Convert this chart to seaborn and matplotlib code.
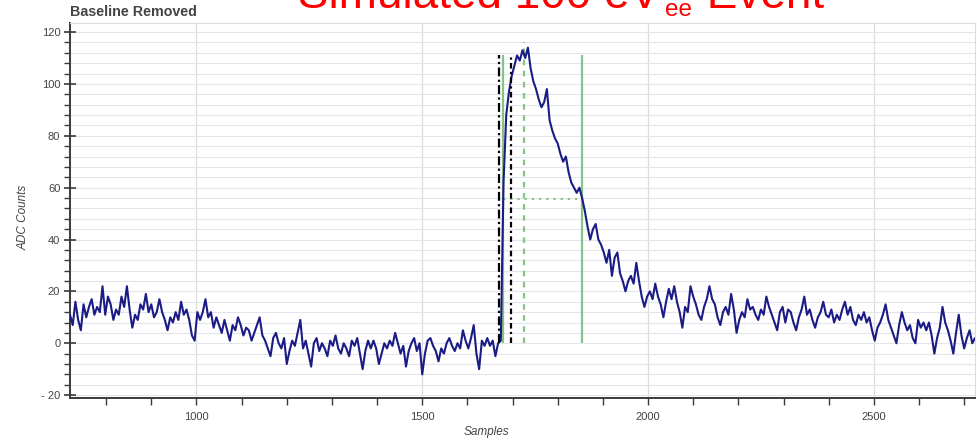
import matplotlib
matplotlib.use("Agg")
import matplotlib.pyplot as plt
import pandas as pd
import seaborn as sns
from matplotlib.ticker import MultipleLocator

# Digitizer sample grid (every 6th sample of the trace)
samples = list(range(720, 2725, 6))

# Baseline-subtracted ADC counts at those samples
adc_pre_1 = [
    11, 7, 16, 9, 5, 15, 10, 14, 17, 11,
    14, 12, 22, 11, 18, 15, 9, 13, 11, 18,
    14, 22, 13, 6, 11, 9, 15, 13, 19, 12,
    15, 10, 12, 17, 12, 9, 5, 10, 8, 12,
    9, 16, 11, 13, 9, 3, 1, 12, 9, 12,
    17, 10, 12, 6, 10, 7, 4, 9, 5, 1,
    7, 5, 10, 7, 3, 6, 5,
]
adc_pre_2 = [
    1, 4, 7, 10, 3, 1, -2, -5, 2, 4,
    0, -2, 2, -8, -3, 1, -1, 4, 9, -2,
    1, -4, -9, 0, 2, -3, 0, -2, -5, 1,
    -1, 3, -2, -4, 0, -2, -5, 1, -1, 2,
    -4, -10, -3, 1, -2, 1, -2, -8, -4, 0,
    -2, 1, -1, 4, 0, -4, -1, -9, -3, 0,
    2, -3, 0, -12, -4, 1, 2,
]
adc_pre_3 = [
    -1, -3, -7, -2, -4, 0, 2, -1, -3, 0,
    -2, 5, 1, -2, 2, 7, -4, -10, 1, -1,
    2, -1, 1, -5, 0, 1,
]
adc_pulse = [
    62, 88, 97, 103, 107, 111, 109, 113, 110, 114,
    106, 101, 98, 94, 91, 93, 98, 86, 82, 79,
    77, 73, 70, 72, 66, 62, 60, 58, 60, 56,
    51, 45, 40, 44, 46, 40,
]
adc_tail_1 = [
    38, 35, 31, 36, 26, 33, 35, 27, 24, 20,
    24, 26, 23, 31, 24, 18, 14, 18, 20, 17,
    23, 18, 15, 10, 16, 21, 17, 22, 16, 12,
    6, 14, 12, 22, 18, 15, 11, 9, 14, 17,
    22, 17, 15, 10, 7, 12, 14, 11, 19, 13,
    4, 9, 12, 10, 17, 13, 14, 11, 9, 13,
    11, 18, 14, 11, 8, 5, 12, 14,
]
adc_tail_2 = [
    8, 13, 12, 8, 5, 10, 13, 18, 11, 13,
    9, 6, 10, 12, 16, 11, 10, 13, 8, 11,
    9, 13, 16, 11, 14, 9, 7, 11, 9, 12,
    8, 10, 5, 1, 6, 8, 11, 15, 9, 6,
    3, 0, 7, 12, 8, 5, 7, 2, 0, 9,
    6, 8, 5, 8, 3, -4, 2, 6, 14, 8,
    5, 1, -4, 4, 11, 3, -2, 2, 5, 0,
    2,
]
adc_counts = adc_pre_1 + adc_pre_2 + adc_pre_3 + adc_pulse + adc_tail_1 + adc_tail_2

# Pulse-finding markers (sample index / ADC level)
start_a = 1670
start_b = 1679
rise_end = 1696
peak_pos = 1725
half_fall = 1854
marker_top = 111
peak_top = 116
half_level = 55.5

sns.set_theme(style="white")
plt.rcParams["font.family"] = ["Liberation Sans", "DejaVu Sans"]

W, H = 977, 441
fig = plt.figure(figsize=(W / 100, H / 100), dpi=100)
fig.patch.set_facecolor("white")
ax = fig.add_axes([70 / W, 1 - 397.7 / H, (975 - 70) / W, (397.7 - 23) / H])
ax.set_facecolor("white")

wave = pd.DataFrame({"Samples": samples, "ADC Counts": adc_counts})
sns.lineplot(data=wave, x="Samples", y="ADC Counts", ax=ax, color="#1b1b86",
             linewidth=1.5, estimator=None, sort=False, zorder=3)

green = "#86c386"
ax.vlines(start_a, 0, marker_top, colors="black", linestyles=(0, (4, 1.5, 1, 1.5)), linewidth=1.6, zorder=4)
ax.vlines(start_b, 0, marker_top, colors=green, linestyles="solid", linewidth=1.6, zorder=2)
ax.vlines(rise_end, 0, marker_top, colors="black", linestyles=(0, (2.5, 1.5, 1, 1.5)), linewidth=1.6, zorder=4)
ax.vlines(peak_pos, 0, peak_top, colors=green, linestyles=(0, (2.5, 2.5)), linewidth=1.6, zorder=2)
ax.vlines(half_fall, 0, marker_top, colors=green, linestyles="solid", linewidth=1.6, zorder=2)
ax.hlines(half_level, start_b, half_fall, colors=green, linestyles=(0, (1.2, 2.5)), linewidth=1.4, zorder=2)

ax.set_xlim(720, 2724)
ax.set_ylim(-21, 123.5)
ax.xaxis.set_major_locator(MultipleLocator(500))
ax.xaxis.set_minor_locator(MultipleLocator(100))
ax.yaxis.set_major_locator(MultipleLocator(20))
ax.yaxis.set_minor_locator(MultipleLocator(4))

ax.grid(True, axis="y", which="both", color="#e4e4ec", linewidth=0.8, zorder=0)
ax.grid(True, axis="x", which="major", color="#dcdcdc", linewidth=0.9, zorder=0)
ax.set_axisbelow(True)

for side in ("left", "bottom"):
    ax.spines[side].set_color("#3a3a3a")
    ax.spines[side].set_linewidth(1.4)
for side in ("top", "right"):
    ax.spines[side].set_color("#dddddd")
    ax.spines[side].set_linewidth(0.8)

ax.tick_params(axis="y", which="major", direction="inout", length=8, width=1.2, color="#3a3a3a",
               labelsize=8, labelcolor="#444444", pad=3, left=True)
ax.tick_params(axis="y", which="minor", direction="out", length=4, width=1.0, color="#3a3a3a", left=True)
ax.tick_params(axis="x", which="both", direction="out", length=5, width=1.0, color="#3a3a3a",
               labelsize=8, labelcolor="#444444", pad=5, bottom=True)
ax.set_yticks([-20, 0, 20, 40, 60, 80, 100, 120])
ax.set_yticklabels(["- 20", "0", "20", "40", "60", "80", "100", "120"])
ax.set_xticks([1000, 1500, 2000, 2500])

ax.set_xlabel("Samples", fontsize=8.5, fontstyle="italic", color="#444444")
ax.set_ylabel("ADC Counts", fontsize=8.5, fontstyle="italic", color="#444444")
ax.xaxis.set_label_coords((486 - 70) / 905, -0.075)
ax.yaxis.set_label_coords((30 - 70) / 905, 0.48)

fig.text(70 / W, 1 - 15.5 / H, "Baseline Removed", fontsize=10.3, fontweight="bold",
         color="#444444", va="baseline", ha="left")

# Title with a small "ee" subscript, laid out piece by piece
red = "#ff0000"
renderer = fig.canvas.get_renderer()
t_main = fig.text(298 / W, 1 - 8.5 / H, "Simulated 100 eV", fontsize=33, color=red,
                  va="baseline", ha="left")
bb = t_main.get_window_extent(renderer)
t_sub = fig.text((bb.x1 + 5) / W, 1 - 15.5 / H, "ee", fontsize=17.5, color=red,
                 va="baseline", ha="left")
bb2 = t_sub.get_window_extent(renderer)
fig.text((bb2.x1 + 2) / W, 1 - 8.5 / H, " Event", fontsize=33, color=red, va="baseline", ha="left")

fig.savefig("out.png", dpi=100, facecolor="white")
